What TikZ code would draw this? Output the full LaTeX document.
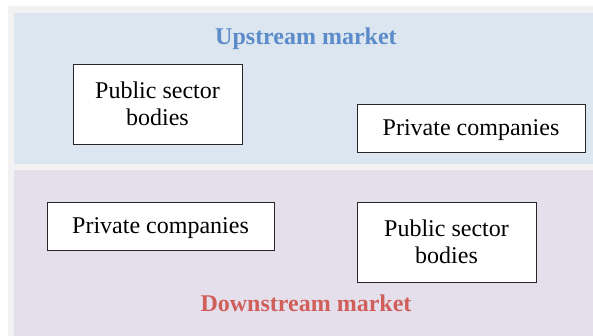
\documentclass[tikz,border=0pt]{standalone}
\usepackage{fontspec}
\setmainfont{Liberation Serif}
\definecolor{upfill}{HTML}{DCE6F1}
\definecolor{downfill}{HTML}{E5DFEC}
\definecolor{outerfill}{HTML}{F2F2F2}
\definecolor{uptitle}{HTML}{5B8BC9}
\definecolor{downtitle}{HTML}{D05F5C}
\begin{document}
\begin{tikzpicture}[x=1pt,y=-1pt,
	actor/.style={draw=black!85,fill=white,line width=0.8pt,align=center,inner sep=0pt,
		font=\fontsize{24}{27}\selectfont},
	oneline/.style={text depth=0pt},
	market/.style={font=\fontsize{24}{27}\selectfont\bfseries,text depth=0pt}]
		\useasboundingbox (0,0) rectangle (593,336);
		\fill[outerfill] (8,6) rectangle (593,336);
		\fill[upfill] (14,13) rectangle (593,164);
		\fill[downfill] (14,170) rectangle (593,336);
		\node[market,text=uptitle] (up) at (306,36) {Upstream market};
		\node[market,text=downtitle] (down) at (306,303) {Downstream market};
			\node[actor,minimum width=169pt,minimum height=80pt] (uppub) at (157.5,104) {Public sector\\bodies};
			\node[actor,oneline,minimum width=228pt,minimum height=48pt] (uppriv) at (471,128) {Private companies};
			\node[actor,oneline,minimum width=227pt,minimum height=48pt] (downpriv) at (160.5,226) {Private companies};
			\node[actor,minimum width=179pt,minimum height=80pt] (downpub) at (446.5,242) {Public sector\\bodies};
	\end{tikzpicture}
\end{document}
